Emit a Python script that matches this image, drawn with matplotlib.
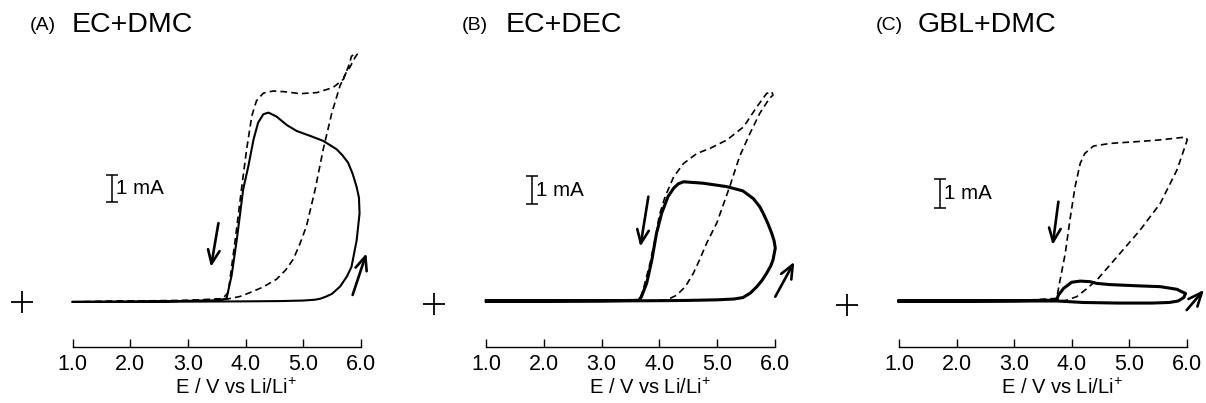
import matplotlib
matplotlib.use('Agg')
import matplotlib.pyplot as plt

plt.rcParams['font.family'] = ['Liberation Sans', 'DejaVu Sans']
plt.rcParams['mathtext.default'] = 'regular'

# x axis
ticks = [1.0, 2.0, 3.0, 4.0, 5.0, 6.0]
tick_labels = ['1.0', '2.0', '3.0', '4.0', '5.0', '6.0']
xlabel = 'E / V vs Li/Li$^{+}$'

letters = ['(A)', '(B)', '(C)']
solvents = ['EC+DMC', 'EC+DEC', 'GBL+DMC']

# (A) EC+DMC, current in mA
a_solid_v = [1.0, 2.0, 3.0, 4.0, 4.6, 5.0, 5.2, 5.3, 5.4, 5.5, 5.64, 5.76, 5.84, 5.93, 5.98,
             5.97, 5.93, 5.86, 5.78, 5.68, 5.58, 5.35, 5.12, 4.89, 4.72, 4.54, 4.40, 4.31,
             4.22, 4.14, 4.05, 3.96, 3.85, 3.76, 3.67, 3.5, 2.5, 1.0]
a_solid_i = [0.0, 0.0, 0.01, 0.02, 0.03, 0.05, 0.08, 0.12, 0.2, 0.3, 0.57, 0.95, 1.31, 2.31, 3.31,
             3.9, 4.3, 4.8, 5.22, 5.5, 5.72, 6.03, 6.22, 6.40, 6.62, 6.94, 7.09, 7.03,
             6.72, 6.09, 5.09, 4.22, 2.35, 1.0, 0.12, 0.06, 0.02, 0.0]
a_dash_v = [1.0, 2.0, 3.0, 3.67, 3.9, 4.08, 4.3, 4.54, 4.7, 4.83, 4.95, 5.06, 5.21, 5.35, 5.50,
            5.64, 5.75, 5.81, 5.90, 5.94, 5.90, 5.84, 5.80, 5.70, 5.52, 5.24, 4.95, 4.69, 4.48,
            4.31, 4.19, 4.11, 4.02, 3.93, 3.82, 3.74, 3.70, 3.6, 3.0, 2.0, 1.0]
a_dash_i = [0.0, 0.02, 0.04, 0.1, 0.2, 0.35, 0.55, 0.85, 1.2, 1.6, 2.2, 2.85, 4.22, 5.72, 7.09,
            8.09, 8.6, 8.78, 9.15, 9.28, 9.3, 9.2, 8.9, 8.34, 8.03, 7.84, 7.8, 7.87, 7.9,
            7.82, 7.53, 6.97, 5.72, 4.22, 2.3, 1.0, 0.35, 0.12, 0.06, 0.03, 0.0]

# (B) EC+DEC
b_solid_v = [1.0, 2.0, 3.0, 4.0, 4.5, 5.0, 5.3, 5.45, 5.58, 5.69, 5.78, 5.86, 5.93, 5.97, 6.01,
             5.99, 5.95, 5.88, 5.80, 5.74, 5.63, 5.45, 5.17, 4.76, 4.42, 4.33, 4.25, 4.15,
             4.04, 3.95, 3.87, 3.78, 3.69, 3.64, 3.0, 2.0, 1.0]
b_solid_i = [0.0, 0.0, 0.0, 0.01, 0.02, 0.04, 0.07, 0.12, 0.28, 0.5, 0.72, 0.97, 1.22, 1.43, 1.85,
             2.1, 2.36, 2.72, 3.07, 3.3, 3.58, 3.85, 4.0, 4.12, 4.17, 4.1, 3.95, 3.65,
             3.07, 2.36, 1.43, 0.62, 0.15, 0.02, 0.01, 0.0, 0.0]
b_dash_v = [1.0, 3.0, 3.7, 4.0, 4.13, 4.3, 4.45, 4.59, 4.70, 4.82, 5.0, 5.22, 5.39, 5.57, 5.74,
            5.91, 5.97, 5.95, 5.86, 5.69, 5.46, 5.17, 4.88, 4.65, 4.42, 4.25, 4.10, 4.0,
            3.95, 3.84, 3.72, 3.66, 3.0, 1.0]
b_dash_i = [0.0, 0.0, 0.01, 0.02, 0.04, 0.2, 0.5, 0.97, 1.45, 2.02, 2.75, 4.0, 5.05, 5.86, 6.56,
            7.09, 7.2, 7.32, 7.26, 6.79, 6.09, 5.63, 5.34, 5.16, 4.81, 4.35, 3.65, 3.0,
            2.4, 1.33, 0.4, 0.05, 0.0, 0.0]

# (C) GBL+DMC
c_solid_v = [1.0, 2.0, 3.0, 3.75, 4.2, 4.8, 5.4, 5.7, 5.85, 5.95, 5.98, 5.9, 5.83, 5.54, 5.13,
             4.67, 4.44, 4.32, 4.15, 4.0, 3.86, 3.77, 3.74, 3.0, 2.0, 1.0]
c_solid_i = [0.0, 0.0, 0.0, 0.0, -0.05, -0.07, -0.07, -0.05, 0.0, 0.12, 0.26, 0.33, 0.4, 0.49, 0.52,
             0.56, 0.6, 0.66, 0.68, 0.64, 0.43, 0.2, 0.03, 0.01, 0.0, 0.0]
c_dash_v = [1.0, 3.0, 3.75, 3.9, 4.09, 4.25, 4.44, 4.79, 5.19, 5.54, 5.83, 5.97, 6.01, 5.98, 5.95,
            5.54, 5.13, 4.67, 4.38, 4.23, 4.15, 4.06, 3.97, 3.89, 3.80, 3.74, 3.0, 1.0]
c_dash_i = [0.0, 0.0, 0.0, 0.02, 0.15, 0.4, 0.72, 1.51, 2.42, 3.33, 4.47, 5.27, 5.5, 5.6, 5.59,
            5.5, 5.44, 5.38, 5.29, 5.04, 4.7, 3.9, 2.76, 1.63, 0.72, 0.09, 0.0, 0.0]

# sweep arrows: (tail_v, tail_i, head_v, head_i)
a_arrows = [(3.53, 2.95, 3.40, 1.31), (5.86, 0.26, 6.10, 1.82)]
b_arrows = [(3.81, 3.65, 3.67, 1.90), (6.01, 0.15, 6.34, 1.37)]
c_arrows = [(3.77, 3.39, 3.67, 1.91), (6.00, -0.31, 6.30, 0.38)]

# 1 mA scale bar (x position, lower end) and zero-current mark
scale_bars = [(1.69, 3.76), (1.79, 3.38), (1.71, 3.16)]
zero_marks = [(0.115, 0.0), (0.088, -0.1), (0.10, -0.12)]

W, H = 1206, 403
fig = plt.figure(figsize=(W / 100, H / 100), dpi=100)

# pixel positions of 1.0 V and 6.0 V on each panel, y limits per panel
axis_px = [(72.7, 360.7), (486.3, 774.7), (899.0, 1186.7)]
ylims = [(-1.69, 9.81), (-1.61, 9.13), (-1.57, 8.91)]
solid_lw = [1.5, 2.2, 2.2]
title_px = [(29.3, 71.7), (462.0, 505.3), (875.7, 917.3)]

panels = [
    (a_solid_v, a_solid_i, a_dash_v, a_dash_i, a_arrows),
    (b_solid_v, b_solid_i, b_dash_v, b_dash_i, b_arrows),
    (c_solid_v, c_solid_i, c_dash_v, c_dash_i, c_arrows),
]

for k, (sv, si, dv, di, arrows) in enumerate(panels):
    x0, x1 = axis_px[k]
    ax = fig.add_axes([x0 / W, 56 / H, (x1 - x0) / W, 307 / H])
    ax.plot(dv, di, color='k', lw=1.2, ls=(0, (4, 2.5)), clip_on=False)
    ax.plot(sv, si, color='k', lw=solid_lw[k], clip_on=False, solid_joinstyle='round')
    ax.set_xlim(1.0, 6.0)
    ax.set_ylim(*ylims[k])
    for s in ['left', 'right', 'top']:
        ax.spines[s].set_visible(False)
    ax.spines['bottom'].set_linewidth(1.0)
    ax.set_yticks([])
    ax.set_xticks(ticks)
    ax.set_xticklabels(tick_labels, fontsize=15.5)
    ax.tick_params(axis='x', direction='in', length=6, width=1.0, pad=5)
    ax.set_xlabel(xlabel, fontsize=14.5)
    ax.xaxis.label.set_va('center')
    ax.xaxis.set_label_coords(0.567, -0.134)
    ax.patch.set_visible(False)

    for tv, ti, hv, hi in arrows:
        ax.annotate('', xy=(hv, hi), xytext=(tv, ti), annotation_clip=False,
                    arrowprops=dict(arrowstyle='->,head_length=0.7,head_width=0.3',
                                    lw=1.9, color='k', mutation_scale=14,
                                    shrinkA=0, shrinkB=0))

    bx, by = scale_bars[k]
    ax.errorbar([bx], [by + 0.5], yerr=0.5, fmt='none', ecolor='k',
                elinewidth=1.1, capsize=4.3, capthick=1.1)
    ax.text(bx + 0.07, by + 0.5, '1 mA', fontsize=14.8, va='center', ha='left')

    zx, zy = zero_marks[k]
    ax.plot([zx], [zy], marker='+', color='k', markersize=16.5, mew=1.3, clip_on=False)

    lx, sx = title_px[k]
    fig.text(lx / W, 1 - 25 / H, letters[k], fontsize=14, va='center', ha='left')
    fig.text(sx / W, 1 - 25 / H, solvents[k], fontsize=20.5, va='center', ha='left')

fig.savefig('out.png', dpi=100)
